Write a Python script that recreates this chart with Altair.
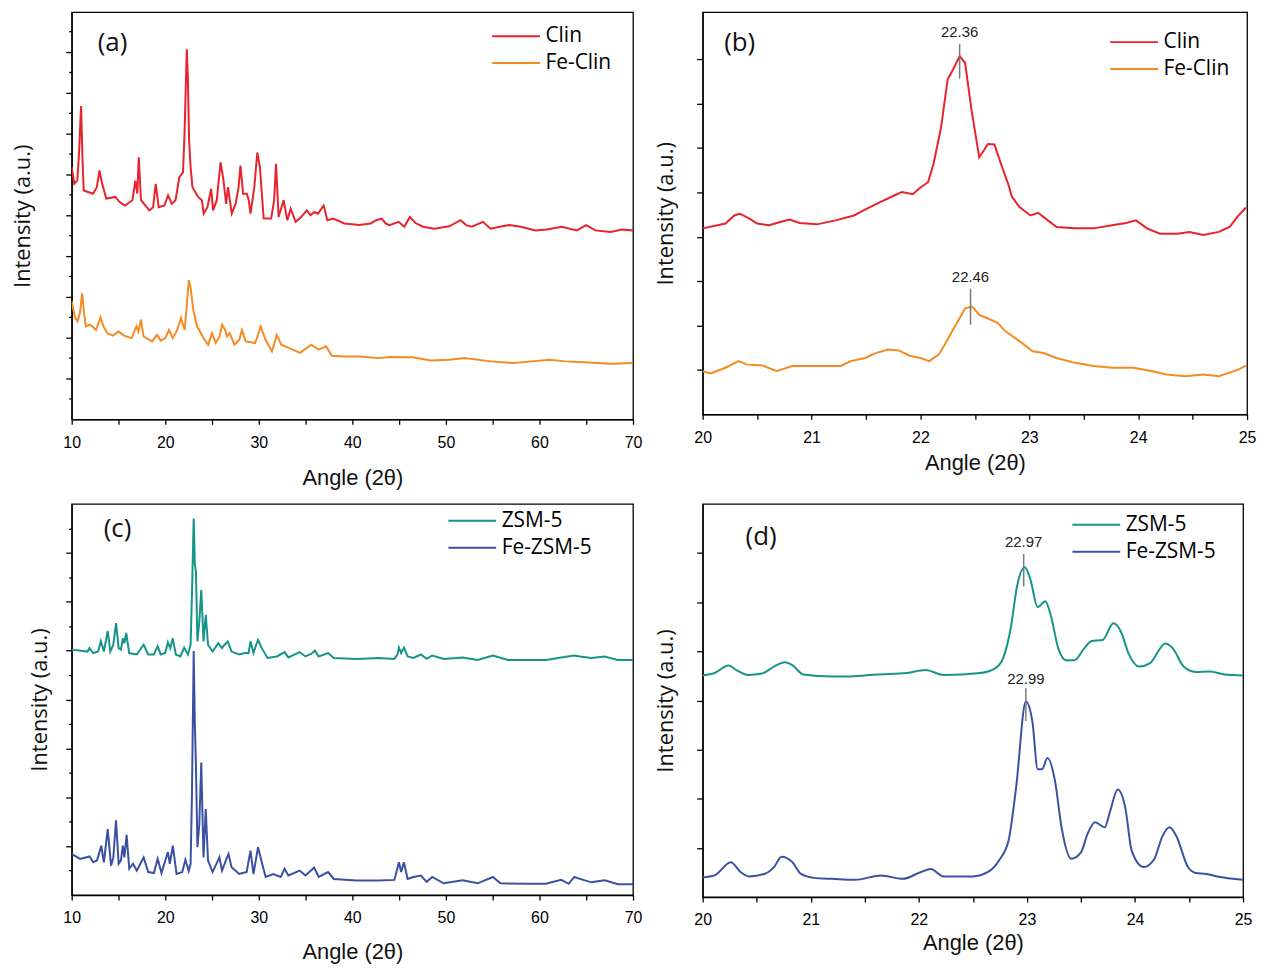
import altair as alt
import pandas as pd

# ---------------- data ----------------
# Panel (a): full-range patterns, angle (2theta) and intensity (a.u., offset)
A_CLIN_X = [10.00, 10.28, 10.60, 10.80, 11.00, 11.16, 11.28, 12.28, 12.69, 12.97, 13.17, 13.69, 14.69, 15.09,
            15.69, 16.49, 16.81, 17.01, 17.17, 17.41, 18.30, 18.70, 18.98, 19.30, 19.90, 20.30, 20.70, 21.10,
            21.50, 21.90, 22.06, 22.30, 22.42, 22.55, 22.71, 22.91, 23.51, 23.91, 24.11, 24.51, 24.91, 25.11,
            25.51, 25.91, 26.23, 26.51, 26.71, 27.11, 27.52, 27.84, 28.04, 28.32, 28.72, 28.92, 29.12, 29.52,
            29.84, 30.12, 30.52, 31.32, 31.64, 31.84, 32.12, 32.65, 33.05, 33.41, 33.93, 34.53, 35.13, 35.53,
            35.93, 36.33, 36.93, 37.33, 37.94, 39.14, 40.74, 41.94, 42.55, 43.15, 43.55, 43.95, 44.95, 45.55,
            46.15, 46.75, 47.56, 48.76, 50.36, 51.56, 52.16, 52.77, 53.97, 54.77, 55.77, 56.77, 57.98, 59.58,
            60.78, 62.38, 63.99, 64.99, 65.99, 67.60, 68.80, 70.00]
A_CLIN_Y = [6.18, 5.77, 5.85, 6.59, 7.68, 6.34, 5.61, 5.53, 5.69, 6.10, 5.85, 5.41, 5.45, 5.33,
            5.24, 5.37, 5.85, 5.53, 6.42, 5.37, 5.12, 5.20, 5.77, 5.20, 5.24, 5.49, 5.28, 5.37,
            5.93, 6.06, 6.99, 9.07, 8.37, 6.83, 6.18, 5.69, 5.45, 5.37, 5.04, 5.20, 5.65, 5.12,
            5.37, 6.30, 5.85, 5.28, 5.69, 5.04, 5.28, 5.69, 6.22, 5.53, 5.53, 5.37, 5.04, 5.69,
            6.54, 6.18, 4.92, 4.92, 5.37, 6.26, 4.96, 5.37, 4.88, 5.16, 4.84, 4.96, 5.12, 5.00,
            5.08, 5.04, 5.24, 4.88, 4.92, 4.80, 4.76, 4.80, 4.88, 4.92, 4.80, 4.76, 4.84, 4.72,
            4.96, 4.81, 4.72, 4.67, 4.73, 4.88, 4.76, 4.72, 4.84, 4.67, 4.72, 4.76, 4.72, 4.63,
            4.65, 4.72, 4.63, 4.76, 4.63, 4.59, 4.65, 4.63]
A_FECLIN_X = [10.00, 10.32, 10.60, 10.88, 11.12, 11.32, 11.52, 12.00, 12.60, 13.08, 13.40, 13.80, 14.40, 15.00,
              15.60, 16.40, 16.92, 17.12, 17.40, 17.68, 18.60, 19.12, 19.52, 20.00, 20.40, 20.80, 21.28, 21.68,
              22.08, 22.32, 22.52, 22.72, 23.00, 23.40, 24.20, 24.60, 25.00, 25.40, 25.80, 26.08, 26.40, 26.60,
              26.88, 27.40, 27.92, 28.20, 28.60, 29.60, 29.92, 30.20, 30.72, 31.40, 31.68, 31.92, 32.40, 33.20,
              34.40, 35.60, 36.40, 37.20, 37.80, 39.20, 40.80, 42.80, 44.00, 46.40, 48.40, 50.40, 52.00, 54.80,
              57.20, 59.20, 61.00, 62.80, 64.80, 67.60, 70.00]
A_FECLIN_Y = [2.89, 2.52, 2.40, 2.60, 3.09, 2.60, 2.28, 2.32, 2.19, 2.50, 2.28, 2.11, 2.05, 2.15,
              2.05, 1.99, 2.28, 2.15, 2.44, 2.03, 1.91, 2.07, 1.93, 1.99, 2.19, 1.99, 2.19, 2.48,
              2.19, 2.85, 3.41, 3.21, 2.68, 2.28, 1.95, 1.83, 2.11, 1.87, 2.03, 2.32, 2.19, 2.03,
              2.11, 1.83, 1.95, 2.19, 1.91, 1.87, 2.07, 2.28, 1.95, 1.67, 1.87, 2.07, 1.83, 1.75,
              1.63, 1.83, 1.71, 1.79, 1.56, 1.54, 1.54, 1.50, 1.53, 1.52, 1.44, 1.46, 1.50, 1.42,
              1.38, 1.42, 1.46, 1.42, 1.40, 1.36, 1.38]

# Panel (b): 20-25 degree detail
B_CLIN_X = [20.00, 20.21, 20.29, 20.34, 20.43, 20.50, 20.61, 20.72, 20.80, 20.89, 21.05, 21.22, 21.39, 21.49,
            21.63, 21.76, 21.83, 21.93, 22.00, 22.07, 22.12, 22.19, 22.25, 22.30, 22.36, 22.41, 22.47, 22.54,
            22.57, 22.62, 22.68, 22.74, 22.81, 22.84, 22.91, 23.01, 23.08, 23.15, 23.25, 23.42, 23.59, 23.76,
            23.89, 23.98, 24.08, 24.20, 24.36, 24.47, 24.60, 24.74, 24.84, 24.91, 24.99]
B_CLIN_Y = [4.19, 4.30, 4.48, 4.52, 4.41, 4.30, 4.26, 4.34, 4.39, 4.31, 4.28, 4.37, 4.48, 4.61,
            4.78, 4.93, 5.01, 4.96, 5.11, 5.23, 5.64, 6.47, 7.55, 7.77, 8.07, 7.92, 6.84, 5.79,
            5.90, 6.09, 6.08, 5.64, 5.16, 4.90, 4.67, 4.48, 4.54, 4.41, 4.22, 4.19, 4.19, 4.26,
            4.31, 4.37, 4.19, 4.07, 4.07, 4.11, 4.04, 4.11, 4.22, 4.45, 4.66]
B_FECLIN_X = [20.00, 20.07, 20.21, 20.33, 20.41, 20.55, 20.68, 20.82, 20.95, 21.16, 21.27, 21.36, 21.49, 21.59,
              21.70, 21.80, 21.90, 22.00, 22.08, 22.17, 22.24, 22.30, 22.37, 22.41, 22.47, 22.49, 22.54, 22.61,
              22.71, 22.78, 22.91, 23.03, 23.13, 23.25, 23.42, 23.59, 23.76, 23.96, 24.13, 24.26, 24.43, 24.60,
              24.74, 24.84, 24.92, 24.99]
B_FECLIN_Y = [0.97, 0.92, 1.05, 1.20, 1.12, 1.10, 0.97, 1.09, 1.09, 1.09, 1.09, 1.20, 1.27, 1.38,
              1.46, 1.44, 1.32, 1.27, 1.20, 1.35, 1.64, 1.91, 2.21, 2.39, 2.43, 2.39, 2.24, 2.17,
              2.06, 1.87, 1.65, 1.42, 1.38, 1.27, 1.16, 1.09, 1.05, 1.05, 0.97, 0.90, 0.86, 0.90,
              0.86, 0.94, 1.01, 1.10]
B_PEAK_X = [22.36, 22.46]
B_PEAK_TEXT = ["22.36", "22.46"]
B_PEAK_TEXT_Y = [8.61, 3.10]
B_PEAK_TOP = [8.34, 2.83]
B_PEAK_BOTTOM = [7.56, 2.02]

# Panel (c): full-range patterns
C_ZSM_X = [10.00, 11.70, 11.90, 12.31, 12.83, 13.12, 13.44, 13.85, 14.13, 14.45, 14.74, 15.02, 15.26, 15.47,
           15.63, 15.83, 16.15, 16.96, 17.69, 18.18, 18.79, 19.19, 19.51, 20.00, 20.28, 20.53, 20.81, 21.13,
           21.62, 22.02, 22.43, 22.71, 22.87, 23.04, 23.16, 23.28, 23.44, 23.64, 23.85, 24.09, 24.33, 24.57,
           25.06, 25.67, 26.07, 26.36, 26.68, 27.09, 27.89, 28.50, 28.91, 29.11, 29.43, 29.72, 29.92, 30.32,
           30.93, 31.94, 32.75, 33.16, 34.37, 34.98, 35.59, 36.00, 36.40, 37.41, 38.02, 40.45, 42.87, 44.49,
           44.82, 44.98, 45.22, 45.51, 45.91, 46.52, 47.33, 47.94, 48.54, 49.76, 51.78, 53.40, 55.02, 56.64,
           58.66, 60.69, 62.31, 63.72, 64.33, 65.55, 66.96, 68.38, 70.00]
C_ZSM_Y = [5.02, 4.98, 5.05, 4.95, 4.98, 5.19, 4.98, 5.40, 4.98, 5.12, 5.56, 5.05, 5.02, 5.25,
           5.15, 5.36, 4.95, 4.92, 5.12, 4.92, 4.92, 5.09, 4.92, 4.95, 5.17, 5.05, 5.25, 4.92,
           4.88, 5.06, 4.92, 5.12, 6.27, 7.70, 6.78, 6.61, 5.19, 5.59, 6.24, 5.19, 5.73, 5.12,
           4.98, 5.15, 5.05, 5.12, 5.19, 4.98, 4.92, 4.95, 4.95, 5.19, 4.95, 5.12, 5.22, 5.05,
           4.85, 4.88, 4.97, 4.86, 4.97, 4.88, 4.93, 5.00, 4.88, 4.95, 4.85, 4.83, 4.85, 4.83,
           4.92, 5.06, 4.95, 5.06, 4.88, 4.85, 4.92, 4.83, 4.90, 4.83, 4.86, 4.81, 4.90, 4.81,
           4.81, 4.81, 4.86, 4.90, 4.88, 4.85, 4.88, 4.81, 4.81]
C_FEZSM_X = [10.00, 10.89, 11.90, 12.31, 12.71, 13.16, 13.44, 13.85, 14.21, 14.45, 14.74, 15.02, 15.26, 15.47,
             15.63, 15.87, 16.15, 16.56, 16.96, 17.69, 18.18, 18.79, 19.19, 19.60, 20.28, 20.49, 20.81, 21.21,
             21.82, 22.15, 22.51, 22.71, 22.85, 23.04, 23.16, 23.28, 23.44, 23.64, 23.85, 24.09, 24.33, 24.57,
             25.06, 25.79, 26.07, 26.48, 26.76, 27.09, 27.49, 27.89, 28.70, 29.11, 29.43, 29.92, 30.32, 30.73,
             31.54, 32.35, 32.75, 33.16, 34.37, 34.98, 35.91, 36.40, 37.41, 38.02, 40.45, 42.87, 44.49, 44.98,
             45.22, 45.51, 45.91, 46.52, 47.33, 47.94, 48.54, 49.76, 51.78, 53.40, 55.02, 55.83, 58.66, 60.69,
             62.31, 63.12, 63.72, 64.33, 65.55, 66.96, 68.38, 70.00]
C_FEZSM_Y = [0.84, 0.74, 0.79, 0.67, 0.71, 1.01, 0.67, 1.35, 0.60, 0.77, 1.53, 0.64, 0.71, 1.01,
             0.77, 1.23, 0.54, 0.64, 0.50, 0.77, 0.47, 0.45, 0.74, 0.45, 0.88, 0.64, 1.01, 0.43,
             0.47, 0.72, 0.49, 0.64, 2.00, 4.99, 3.52, 2.67, 0.98, 1.45, 2.71, 0.77, 1.76, 0.71,
             0.47, 0.77, 0.50, 0.71, 0.84, 0.57, 0.50, 0.43, 0.47, 0.91, 0.43, 0.98, 0.67, 0.37,
             0.43, 0.37, 0.54, 0.40, 0.50, 0.40, 0.56, 0.37, 0.47, 0.33, 0.30, 0.30, 0.31, 0.67,
             0.47, 0.67, 0.33, 0.37, 0.40, 0.27, 0.37, 0.24, 0.30, 0.24, 0.37, 0.24, 0.23, 0.23,
             0.31, 0.23, 0.37, 0.33, 0.26, 0.30, 0.22, 0.22]

# Panel (d): 20-25 degree detail
D_ZSM_X = [20.00, 20.11, 20.24, 20.31, 20.42, 20.55, 20.66, 20.76, 20.83, 20.93, 21.20, 21.37, 21.61, 21.89,
           22.06, 22.23, 22.57, 22.71, 22.78, 22.85, 22.91, 22.98, 23.03, 23.10, 23.17, 23.22, 23.29, 23.36,
           23.44, 23.53, 23.60, 23.70, 23.80, 23.87, 23.94, 24.04, 24.14, 24.28, 24.35, 24.45, 24.56, 24.69,
           24.83, 25.00]
D_ZSM_Y = [4.51, 4.56, 4.71, 4.62, 4.52, 4.55, 4.69, 4.78, 4.72, 4.53, 4.49, 4.49, 4.53, 4.56,
           4.62, 4.52, 4.56, 4.66, 4.86, 5.47, 6.34, 6.71, 6.48, 5.90, 6.02, 5.74, 5.06, 4.82,
           4.82, 5.06, 5.21, 5.23, 5.57, 5.40, 4.96, 4.69, 4.76, 5.16, 5.06, 4.69, 4.58, 4.59,
           4.53, 4.51]
D_FEZSM_X = [20.00, 20.11, 20.26, 20.35, 20.43, 20.57, 20.66, 20.73, 20.83, 20.91, 21.03, 21.20, 21.41, 21.65,
             21.85, 22.02, 22.11, 22.23, 22.50, 22.64, 22.74, 22.83, 22.90, 22.99, 23.05, 23.10, 23.14, 23.19,
             23.26, 23.32, 23.41, 23.50, 23.56, 23.63, 23.72, 23.77, 23.84, 23.91, 23.97, 24.08, 24.18, 24.25,
             24.32, 24.38, 24.49, 24.56, 24.66, 24.76, 25.00]
D_FEZSM_Y = [0.40, 0.44, 0.71, 0.51, 0.42, 0.47, 0.61, 0.82, 0.71, 0.47, 0.39, 0.37, 0.35, 0.44,
             0.37, 0.51, 0.57, 0.42, 0.42, 0.51, 0.74, 1.15, 2.23, 3.98, 3.58, 2.60, 2.60, 2.83,
             2.36, 1.42, 0.78, 0.91, 1.28, 1.52, 1.42, 1.75, 2.19, 1.82, 0.94, 0.61, 0.78, 1.22,
             1.42, 1.25, 0.61, 0.49, 0.47, 0.42, 0.35]
D_PEAK_X = [22.97, 22.99]
D_PEAK_TEXT = ["22.97", "22.99"]
D_PEAK_TEXT_Y = [7.23, 4.44]
D_PEAK_TOP = [6.98, 4.25]
D_PEAK_BOTTOM = [6.32, 3.58]

# tick positions and labels
WIDE_X_TICKS = [10, 15, 20, 25, 30, 35, 40, 45, 50, 55, 60, 65, 70]
NARROW_X_TICKS = [20, 20.5, 21, 21.5, 22, 22.5, 23, 23.5, 24, 24.5, 25]
A_Y_MAJOR = [1, 2, 3, 4, 5, 6, 7, 8, 9]
A_Y_MINOR = [0.5, 1.5, 2.5, 3.5, 4.5, 5.5, 6.5, 7.5, 8.5, 9.5]
B_Y_MAJOR = [1, 2, 3, 4, 5, 6, 7, 8]
C_Y_MAJOR = [1, 2, 3, 4, 5, 6, 7]
C_Y_MINOR = [0.5, 1.5, 2.5, 3.5, 4.5, 5.5, 6.5, 7.5]
D_Y_MAJOR = [1, 2, 3, 4, 5, 6, 7]

CLIN_NAMES = ["Clin", "Fe-Clin"]
ZSM_NAMES = ["ZSM-5", "Fe-ZSM-5"]
CLIN_COLORS = ["#e8232b", "#f58b22"]
ZSM_COLORS = ["#17948a", "#3a51a3"]

FONT_NUM = "Liberation Sans"
FONT_TXT = "Open Sans"


def panel(names, colors, xs_list, ys_list, xdom, xticks, xmod, ydom, ymajor, yminor,
          w, h, ytp, xtp, leg_x, leg_y, plabel, plabel_xy, peaks=None, interp="linear"):
    rows = []
    for n, xs, ys in zip(names, xs_list, ys_list):
        rows += [{"angle": x, "intensity": y, "series": n} for x, y in zip(xs, ys)]
    df = pd.DataFrame(rows)
    xscale = alt.Scale(domain=xdom, nice=False, zero=False)
    yscale = alt.Scale(domain=ydom, nice=False, zero=False)

    lines = alt.Chart(df).mark_line(strokeWidth=2, clip=True, interpolate=interp).encode(
        x=alt.X("angle:Q", scale=xscale,
                axis=alt.Axis(values=xticks, title="Angle (2θ)", titlePadding=xtp, labelFlush=False,
                              labelExpr=f"datum.value % {xmod} === 0 ? format(datum.value, 'd') : ''")),
        y=alt.Y("intensity:Q", scale=yscale,
                axis=alt.Axis(values=ymajor, labels=False, tickSize=6, title="Intensity (a.u.)",
                              titlePadding=ytp, titleFont=FONT_TXT)),
        color=alt.Color("series:N", scale=alt.Scale(domain=names, range=colors),
                        legend=alt.Legend(orient="none", legendX=leg_x, legendY=leg_y,
                                          direction="vertical", title=None,
                                          symbolType="M-4,0H4", symbolSize=144, symbolStrokeWidth=2,
                                          labelFont=FONT_TXT, labelFontSize=21, labelColor="#000",
                                          labelOffset=19, rowPadding=5, padding=0)),
    )

    lab_df = pd.DataFrame({"angle": [plabel_xy[0]], "intensity": [plabel_xy[1]], "text": [plabel]})
    if yminor:
        yaxis = alt.Axis(values=yminor, labels=False, domain=False, tickSize=3, title=None, orient="left")
    else:
        yaxis = None
    label = alt.Chart(lab_df).mark_text(font=FONT_TXT, fontSize=26, color="#111",
                                        align="center", baseline="middle").encode(
        x=alt.X("angle:Q", scale=xscale, axis=None),
        y=alt.Y("intensity:Q", scale=yscale, axis=yaxis),
        text="text:N",
    )
    layers = [lines, label]
    if peaks:
        px, ptxt, pty, ptop, pbot = peaks
        pk = pd.DataFrame({"angle": px, "text": ptxt, "ty": pty, "top": ptop, "bot": pbot})
        rule = alt.Chart(pk).mark_rule(color="#7a7a7a", strokeWidth=1.5).encode(
            x=alt.X("angle:Q", scale=xscale, axis=None),
            y=alt.Y("top:Q", scale=yscale, axis=None),
            y2="bot:Q",
        )
        txt = alt.Chart(pk).mark_text(font=FONT_NUM, fontSize=15, color="#222",
                                      align="center", baseline="middle").encode(
            x=alt.X("angle:Q", scale=xscale, axis=None),
            y=alt.Y("ty:Q", scale=yscale, axis=None),
            text="text:N",
        )
        layers += [rule, txt]
    return alt.layer(*layers).resolve_axis(x="independent", y="independent").properties(width=w, height=h)


pa = panel(CLIN_NAMES, CLIN_COLORS, [A_CLIN_X, A_FECLIN_X], [A_CLIN_Y, A_FECLIN_Y],
           [10, 70], WIDE_X_TICKS, 10, [0, 9.9756], A_Y_MAJOR, A_Y_MINOR,
           564, 409, 31, 17, 436, 13.5, "(a)", (14.36, 9.22))
pb = panel(CLIN_NAMES, CLIN_COLORS, [B_CLIN_X, B_FECLIN_X], [B_CLIN_Y, B_FECLIN_Y],
           [20, 25], NARROW_X_TICKS, 1, [0, 9.058], B_Y_MAJOR, None,
           547, 404, 19, 7, 423, 19.5, "(b)", (20.34, 8.36),
           peaks=(B_PEAK_X, B_PEAK_TEXT, B_PEAK_TEXT_Y, B_PEAK_TOP, B_PEAK_BOTTOM))
pc = panel(ZSM_NAMES, ZSM_COLORS, [C_ZSM_X, C_FEZSM_X], [C_ZSM_Y, C_FEZSM_Y],
           [10, 70], WIDE_X_TICKS, 10, [0, 8.0], C_Y_MAJOR, C_Y_MINOR,
           564, 393, 14, 16, 392, 6.5, "(c)", (14.9, 7.49))
pd_ = panel(ZSM_NAMES, ZSM_COLORS, [D_ZSM_X, D_FEZSM_X], [D_ZSM_Y, D_FEZSM_Y],
            [20, 25], NARROW_X_TICKS, 1, [0, 8.0], D_Y_MAJOR, None,
            543, 395, 19, 5, 385, 10.5, "(d)", (20.54, 7.33),
            peaks=(D_PEAK_X, D_PEAK_TEXT, D_PEAK_TEXT_Y, D_PEAK_TOP, D_PEAK_BOTTOM),
            interp="monotone")

chart = alt.concat(
    pa, pb, pc, pd_, columns=2, spacing={"row": 85, "column": 70}, bounds="flush"
).resolve_scale(
    color="independent"
).properties(
    padding={"left": 2, "top": 1, "right": 5, "bottom": 0}
).configure_view(
    stroke="#000", strokeWidth=1.3
).configure_axis(
    grid=False, domainColor="#000", domainWidth=1.3, tickColor="#000", tickWidth=1.3,
    labelFont=FONT_NUM, labelFontSize=16, labelColor="#000", labelPadding=10,
    titleFont=FONT_NUM, titleFontSize=22, titleFontWeight="normal", titleColor="#111",
).configure_axisX(
    tickSize=5
).configure_axisY(
    minExtent=0
)

chart.save("out.html", embed_options={"renderer": "svg", "actions": False})
